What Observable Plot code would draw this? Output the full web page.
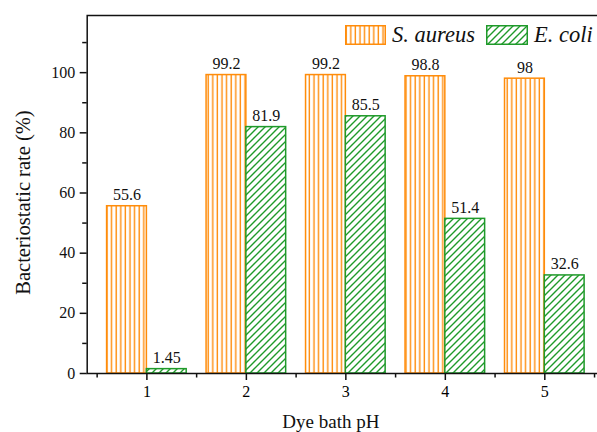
<!DOCTYPE html>
<html>
<head>
<meta charset="utf-8">
<script src="https://cdn.jsdelivr.net/npm/d3@7"></script>
<script src="https://cdn.jsdelivr.net/npm/@observablehq/plot@0.6"></script>
<style>
  body { margin: 0; background: white; font-family: "Liberation Serif", "DejaVu Serif", serif; }
  #wrap { position: relative; width: 597px; height: 432px; overflow: hidden; background: white; }
  #chart { width: 604px; }
  #chart svg { max-width: none !important; font-family: "Liberation Serif", serif !important; }
  #chart svg text { font-family: "Liberation Serif", serif !important; }
  #legend { position: absolute; top: 22px; left: 345px; display: flex; align-items: center; white-space: nowrap;
            font-family: "Liberation Serif", serif; font-style: italic; font-size: 22.5px; color: #111; }
  #legend svg { display: block; }
</style>
</head>
<body>
<svg width="0" height="0" style="position:absolute">
  <defs>
    <pattern id="vlines" patternUnits="userSpaceOnUse" width="4.6" height="10">
      <rect width="4.6" height="10" fill="white"/>
      <line x1="1.2" y1="0" x2="1.2" y2="10" stroke="#ff8c0a" stroke-width="1.4"/>
    </pattern>
    <pattern id="diag" patternUnits="userSpaceOnUse" width="7" height="7">
      <rect width="7" height="7" fill="white"/>
      <path d="M-1,1 l2,-2 M0,7 l7,-7 M6,8 l2,-2" stroke="#1f9a2a" stroke-width="1.4"/>
    </pattern>
  </defs>
</svg>
<div id="wrap">
  <div id="chart"></div>
  <div id="legend">
    <svg width="41" height="20"><rect x="0.75" y="0.75" width="39.5" height="18.5" fill="url(#vlines)" stroke="#ff8c0a" stroke-width="1.5"/></svg>
    <span style="margin-left:6px">S. aureus</span>
    <svg width="42" height="20" style="margin-left:11px"><rect x="0.75" y="0.75" width="40.5" height="18.5" fill="url(#diag)" stroke="#1f9a2a" stroke-width="1.5"/></svg>
    <span style="margin-left:6px">E. coli</span>
  </div>
</div>
<script>
const phValues = [1, 2, 3, 4, 5];
const sAureus = [55.6, 99.2, 99.2, 98.8, 98];
const eColi = [1.45, 81.9, 85.5, 51.4, 32.6];
const yMajorTicks = [0, 20, 40, 60, 80, 100];
const yMinorTicks = [10, 30, 50, 70, 90, 110];
const xMajorTicks = [1, 2, 3, 4, 5];
const xMinorTicks = [0.5, 1.5, 2.5, 3.5, 4.5, 5.5];
const xTitle = "Dye bath pH";
const yTitle = "Bacteriostatic rate (%)";
const seriesNames = ["S. aureus", "E. coli"];

const orange = "#ff8c0a";
const green = "#1f9a2a";
const barW = 0.4;
const serif = "Liberation Serif, serif";

const sa = phValues.map((p, i) => ({ph: p, v: sAureus[i], s: seriesNames[0]}));
const ec = phValues.map((p, i) => ({ph: p, v: eColi[i], s: seriesNames[1]}));

const fmt = v => String(v);

const chart = Plot.plot({
  width: 604,
  height: 432,
  marginLeft: 86.7,
  marginRight: 0,
  marginTop: 15,
  marginBottom: 59,
  style: {fontFamily: serif, background: "white", color: "black", maxWidth: "none"},
  x: {type: "linear", domain: [0.4, 5.6]},
  y: {domain: [0, 119]},
  marks: [
    Plot.rect(sa, {x1: d => d.ph - barW, x2: d => d.ph, y1: 0, y2: "v", fill: "url(#vlines)", stroke: orange, strokeWidth: 1.5}),
    Plot.rect(ec, {x1: d => d.ph, x2: d => d.ph + barW, y1: 0, y2: "v", fill: "url(#diag)", stroke: green, strokeWidth: 1.5}),
    Plot.text(sa, {x: d => d.ph - barW / 2, y: "v", text: d => fmt(d.v), lineAnchor: "bottom", dy: -6, fontSize: 16, fontFamily: serif, fill: "#111"}),
    Plot.text(ec, {x: d => d.ph + barW / 2, y: "v", text: d => fmt(d.v), lineAnchor: "bottom", dy: -6, fontSize: 16, fontFamily: serif, fill: "#111"}),
    Plot.frame({stroke: "#111", strokeWidth: 1.5}),
    Plot.axisY({ticks: yMajorTicks, tickSize: 7, tickPadding: 5, fontSize: 16, fontFamily: serif, label: null, stroke: "#111", strokeWidth: 1.5, color: "#111"}),
    Plot.axisY({ticks: yMinorTicks, tickSize: 4.5, tickFormat: () => "", label: null, stroke: "#111", strokeWidth: 1.5}),
    Plot.axisX({ticks: xMajorTicks, tickSize: 7, tickPadding: 5, fontSize: 16, fontFamily: serif, label: null, stroke: "#111", strokeWidth: 1.5, tickFormat: d => String(d)}),
    Plot.axisX({ticks: xMinorTicks, tickSize: 4.5, tickFormat: () => "", label: null, stroke: "#111", strokeWidth: 1.5}),
    Plot.text([yTitle], {frameAnchor: "left", textAnchor: "middle", rotate: -90, dx: -64, dy: 8, fontSize: 20.5, fontFamily: serif, fill: "#111"}),
    Plot.text([xTitle], {frameAnchor: "bottom", textAnchor: "middle", dx: -15, dy: 54, lineAnchor: "bottom", fontSize: 19, fontFamily: serif, fill: "#111"})
  ]
});
document.getElementById("chart").appendChild(chart);
</script>
</body>
</html>
